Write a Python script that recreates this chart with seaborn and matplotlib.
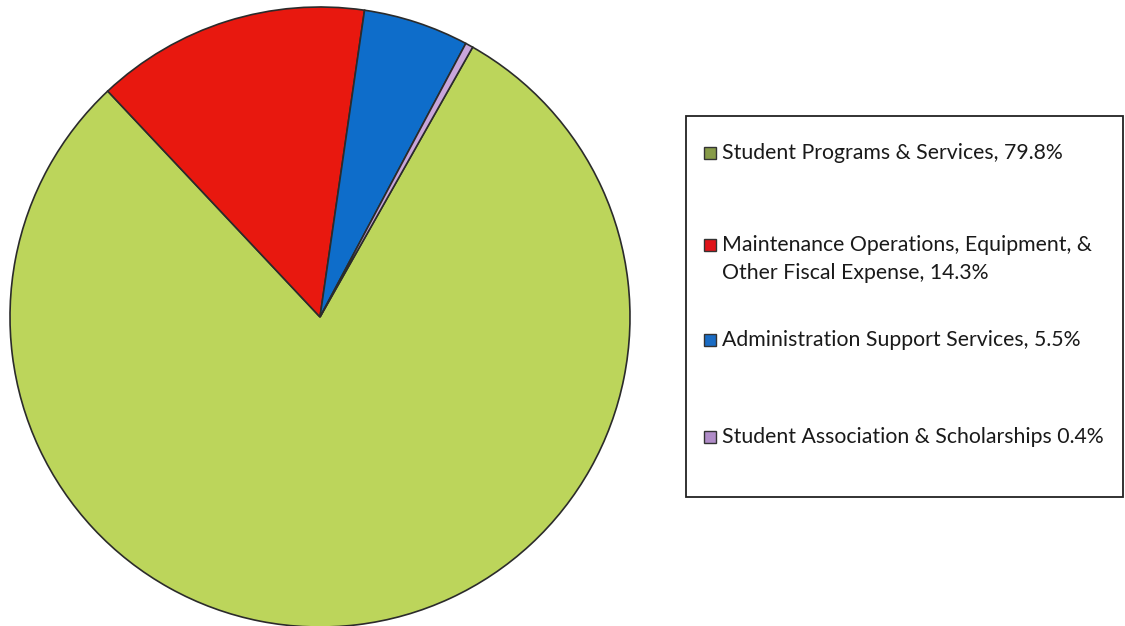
import matplotlib
matplotlib.use("Agg")
import matplotlib.pyplot as plt
from matplotlib.patches import Rectangle
import seaborn as sns

# Expense categories and their shares of the budget (percent)
categories = [
    "Student Programs & Services",
    "Maintenance Operations, Equipment, &\nOther Fiscal Expense",
    "Administration Support Services",
    "Student Association & Scholarships",
]
shares = [79.8, 14.3, 5.5, 0.4]
legend_labels = [
    "Student Programs & Services, 79.8%",
    "Maintenance Operations, Equipment, &\nOther Fiscal Expense, 14.3%",
    "Administration Support Services, 5.5%",
    "Student Association & Scholarships 0.4%",
]

sns.set_theme(style="white")
plt.rcParams["font.family"] = ["Lato", "DejaVu Sans"]

slice_colors = ["#bcd55b", "#e8180f", "#0e6dca", "#c9a6db"]
handle_colors = ["#879b48", "#e0141a", "#1a6cc4", "#b08cc8"]

W, H = 1125, 626
fig = plt.figure(figsize=(W / 100, H / 100), dpi=100)
fig.patch.set_facecolor("white")

# Pie area: circle centred near (320, 317) px with radius ~310 px
cx, cy, r = 320, 317, 310
ax = fig.add_axes([(cx - r) / W, 1 - (cy + r) / H, 2 * r / W, 2 * r / H])
ax.pie(
    shares,
    colors=slice_colors,
    startangle=60.5,
    counterclock=False,
    radius=1.0,
    wedgeprops=dict(edgecolor="#2b2b2b", linewidth=1.2),
)
ax.set_xlim(-1.0, 1.0)
ax.set_ylim(-1.0, 1.0)
ax.set_axis_off()

# Legend box drawn on the figure
bx0, by0, bx1, by1 = 686, 116, 1123, 497
fig.add_artist(Rectangle((bx0 / W, 1 - by1 / H), (bx1 - bx0) / W, (by1 - by0) / H,
                         transform=fig.transFigure, facecolor="white",
                         edgecolor="#222222", linewidth=1.3))

row_centers = [153, 259, 340, 437]
for label, hc, yc in zip(legend_labels, handle_colors, row_centers):
    nlines = label.count("\n") + 1
    first_line_y = yc - (nlines - 1) * 14
    fig.add_artist(Rectangle((704 / W, 1 - (first_line_y + 6) / H), 12 / W, 12 / H,
                             transform=fig.transFigure, facecolor=hc,
                             edgecolor="#333333", linewidth=1.0))
    fig.text(722 / W, 1 - yc / H, label, ha="left", va="center",
             fontsize=15.3, color="#1a1a1a", linespacing=1.5)

fig.savefig("out.png", dpi=100, facecolor="white")
